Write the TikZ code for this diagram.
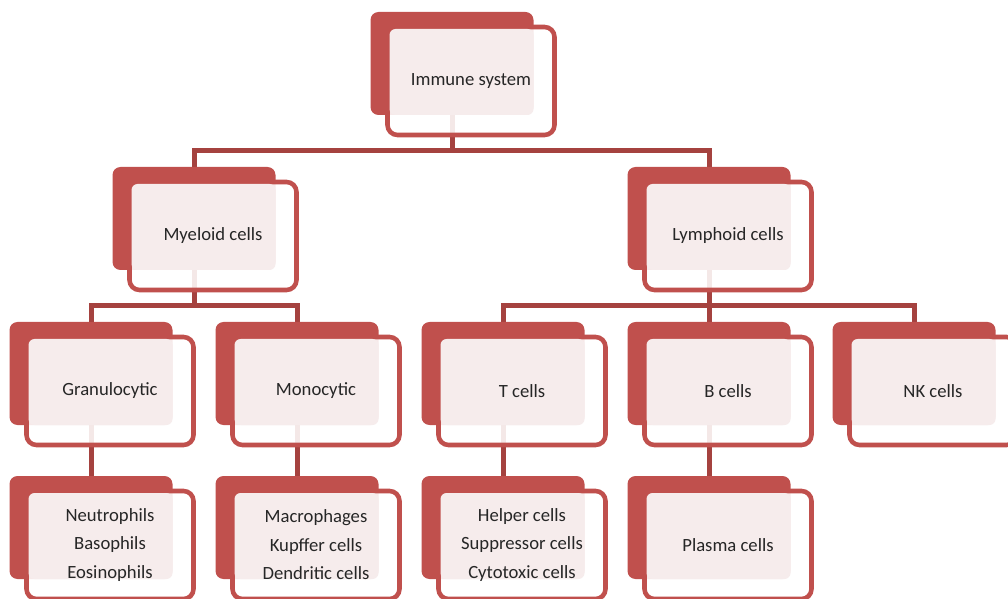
\documentclass[tikz,border=0pt]{standalone}
\usepackage{fontspec}
\setmainfont{Carlito}
\usepackage{tikz}
\usetikzlibrary{positioning, backgrounds}
\definecolor{acc}{HTML}{C0504D}
\definecolor{wire}{HTML}{A5423F}
\definecolor{blush}{HTML}{F6ECEC}
\tikzstyle{back}=[rectangle,rounded corners=6pt,fill=acc,minimum width=122.25pt,minimum height=77.25pt,inner sep=0pt]
\tikzstyle{front}=[rectangle,rounded corners=7.5pt,draw=acc,line width=3.4pt,fill=white,fill opacity=.88,minimum width=125.25pt,minimum height=81pt,inner sep=0pt]
\tikzstyle{face}=[rectangle,rounded corners=4.5pt,fill=blush,minimum width=108pt,minimum height=64.5pt,inner sep=0pt]
\tikzstyle{lbl}=[font=\fontsize{14}{21.4}\selectfont,align=center,text=black!85]
\tikzstyle{link}=[line width=3.75pt,draw=wire]
\tikzstyle{chart}=[x=0.75pt,y=-0.75pt]
% one box: name / x / y / text
\newcommand\cell[4]{%
  \node[back] (#1) at (#2-19,#3-17.5) {};
  \node[front] (#1-f) at (#2,#3) {};
  \node[face] (#1-p) at (#2-9.5,#3-9) {};
  \node[lbl] (#1-t) at (#2,#3) {#4};}

\begin{document}
\begin{tikzpicture}[chart]
  \useasboundingbox (0,0) rectangle (1008,599);
  \foreach \n/\x/\y/\t in {imm/471/81/{Immune system},
      mye/213/236/{Myeloid cells}, lym/728/236/{Lymphoid cells},
      gra/110/391/{Granulocytic}, mon/316/391/{Monocytic},
      tce/522/391/{T cells}, bce/728/391/{B cells}, nkc/933/391/{NK cells},
      neu/110/545/{Neutrophils\\Basophils\\Eosinophils},
      mac/316/545/{Macrophages\\Kupffer cells\\Dendritic cells},
      hel/522/545/{Helper cells\\Suppressor cells\\Cytotoxic cells},
      pla/728/545/{Plasma cells}}
    {\cell{\n}{\x}{\y}{\t}}
  \begin{pgfonlayer}{background}
    \foreach \a/\b in {imm/mye, imm/lym, mye/gra, mye/mon, lym/tce, lym/bce, lym/nkc}
      {\draw[link] (\a.south) -- ++(0,35) -| (\b.north);}
    \foreach \a/\b in {gra/neu, mon/mac, tce/hel, bce/pla}
      {\draw[link] (\a.south) -- (\b.north);}
  \end{pgfonlayer}
\end{tikzpicture}
\end{document}
